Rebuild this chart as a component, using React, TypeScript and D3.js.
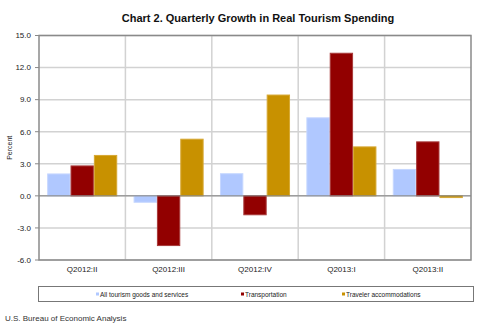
import React from "react";
import * as d3 from "d3";

const quarters = ["Q2012:II", "Q2012:III", "Q2012:IV", "Q2013:I", "Q2013:II"];
const seriesNames = [
  "All tourism goods and services",
  "Transportation",
  "Traveler accommodations",
];
const allTourism = [2.05, -0.6, 2.07, 7.3, 2.47];
const transportation = [2.8, -4.65, -1.77, 13.34, 5.05];
const accommodations = [3.78, 5.3, 9.43, 4.58, -0.16];
const yTicks = [-6, -3, 0, 3, 6, 9, 12, 15];

const colors = ["#b0c8ff", "#920000", "#c89100"];
const edges = ["#c6d7ff", "#a83a3a", "#d6a833"];

export default function App() {
  const width = 479;
  const height = 326;
  const left = 39;
  const right = 471;
  const top = 35.5;
  const bottom = 260;
  const font = "'Liberation Sans', Arial, sans-serif";

  const series = [allTourism, transportation, accommodations];

  const x = d3.scaleBand().domain(quarters).range([left, right]);
  const inner = d3
    .scaleBand()
    .domain(seriesNames)
    .range([0, x.bandwidth()])
    .paddingOuter(0.35)
    .paddingInner(0);
  const y = d3.scaleLinear().domain([-6, 15]).range([bottom, top]);

  const legendX = [98, 243, 344];

  return (
    <svg
      width={width}
      height={height}
      style={{ position: "absolute", left: 0, top: 0, background: "#fff" }}
      fontFamily={font}
    >
      <text
        x={258}
        y={22}
        textAnchor="middle"
        fontSize={11}
        fontWeight="bold"
        fill="#111"
      >
        Chart 2. Quarterly Growth in Real Tourism Spending
      </text>

      {/* horizontal grid */}
      {yTicks.map((t) => (
        <g key={t}>
          <line
            x1={left}
            x2={right}
            y1={y(t)}
            y2={y(t)}
            stroke="#d2d2d2"
            strokeWidth={1.5}
          />
          <line x1={left - 4} x2={left} y1={y(t)} y2={y(t)} stroke="#888" />
          <text
            x={31}
            y={y(t)}
            dy="0.35em"
            textAnchor="end"
            fontSize={8}
            fill="#222"
          >
            {t.toFixed(1)}
          </text>
        </g>
      ))}

      {/* vertical category separators */}
      {quarters.slice(1).map((q) => (
        <line
          key={q}
          x1={x(q)}
          x2={x(q)}
          y1={top}
          y2={bottom}
          stroke="#d2d2d2"
          strokeWidth={1.5}
        />
      ))}

      {/* bars */}
      {quarters.map((q, i) => (
        <g key={q}>
          {series.map((vals, s) => {
            const v = vals[i];
            const bx = (x(q) as number) + (inner(seriesNames[s]) as number);
            const y0 = y(Math.max(0, v));
            const y1 = y(Math.min(0, v));
            return (
              <rect
                key={s}
                x={bx + 0.5}
                y={y0}
                width={inner.bandwidth() - 1}
                height={Math.max(1, y1 - y0)}
                fill={colors[s]}
                stroke={edges[s]}
                strokeWidth={1}
              />
            );
          })}
        </g>
      ))}

      {/* zero line */}
      <line
        x1={left}
        x2={right}
        y1={y(0)}
        y2={y(0)}
        stroke="#808080"
        strokeWidth={1}
      />

      {/* plot frame */}
      <rect
        x={left}
        y={top}
        width={right - left}
        height={bottom - top}
        fill="none"
        stroke="#8a8a8a"
        strokeWidth={1.5}
      />

      {/* category labels */}
      {quarters.map((q) => (
        <text
          key={q}
          x={(x(q) as number) + x.bandwidth() / 2}
          y={272}
          textAnchor="middle"
          fontSize={8}
          fill="#222"
        >
          {q}
        </text>
      ))}

      <text
        transform={`translate(12, ${y(4.5)}) rotate(-90)`}
        textAnchor="middle"
        fontSize={7}
        fill="#222"
      >
        Percent
      </text>

      {/* legend */}
      <rect
        x={38.5}
        y={286.5}
        width={435}
        height={15}
        fill="#fff"
        stroke="#777"
        strokeWidth={1}
      />
      {seriesNames.map((n, s) => (
        <g key={n}>
          <rect x={legendX[s] - 2} y={292.5} width={3} height={3} fill={colors[s]} />
          <text x={legendX[s] + 2} y={297} fontSize={6.5} fill="#222">
            {n}
          </text>
        </g>
      ))}

      <text x={5} y={321} fontSize={8} fill="#333">
        U.S. Bureau of Economic Analysis
      </text>
    </svg>
  );
}
